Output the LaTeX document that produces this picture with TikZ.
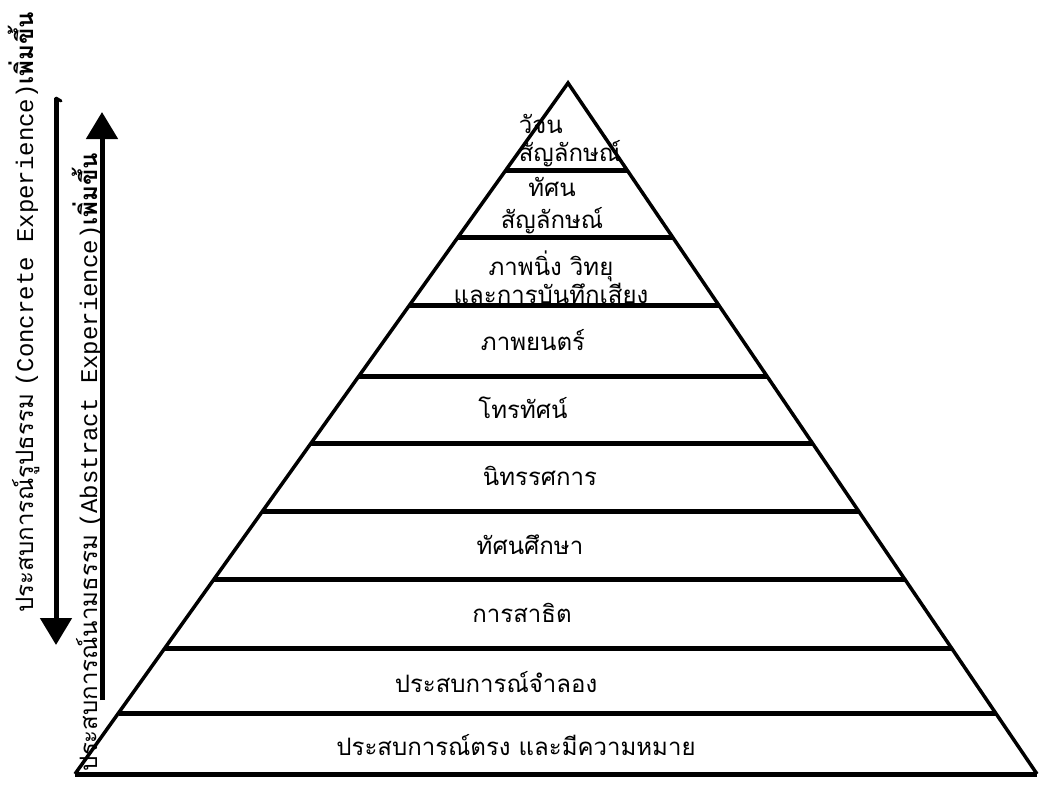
\documentclass[tikz,border=0pt]{standalone}
\usepackage{fontspec}
\newfontfamily\thai[Script=Thai]{Loma}
\newfontfamily\cour{Liberation Mono}
\usetikzlibrary{arrows.meta}
\begin{document}
\begin{tikzpicture}[x=1pt,y=-1pt,
  lbl/.style={font=\thai\fontsize{24}{28}\selectfont, align=center, inner sep=0pt},
  side/.style={font=\fontsize{24}{28}\selectfont, rotate=90, anchor=base, inner sep=0pt},
  edge/.style={line width=3.5pt, line join=miter},
  band/.style={line width=5pt},
  bigarrow/.style={line width=5pt, -{Triangle[width=31pt,length=27pt]}}]
\useasboundingbox (0,0) rectangle (1042,785);
\coordinate (apex) at (568,83);
\coordinate (bl) at (75,774);
\coordinate (br) at (1037,774);
\draw[edge] (bl) -- (apex) -- (br);
\draw[band] (bl) -- (br);
\foreach \yy in {170,237,305,376,443,511,579,648,713} {
  \draw[band] ({568-0.71346*(\yy-83)},\yy) -- ({568+0.67873*(\yy-83)},\yy);
}
\node[lbl, align=left] (l1) at (570,141) {วัจน\\สัญลักษณ์};
\node[lbl] (l2) at (552,206) {ทัศน\\[4pt]สัญลักษณ์};
\node[lbl] (l3) at (551,277) {ภาพนิ่ง วิทยุ\\และการบันทึกเสียง};
\node[lbl] (l4) at (533,340) {ภาพยนตร์};
\node[lbl] (l5) at (523,408) {โทรทัศน์};
\node[lbl] (l6) at (540,476) {นิทรรศการ};
\node[lbl] (l7) at (530,545) {ทัศนศึกษา};
\node[lbl] (l8) at (522,613) {การสาธิต};
\node[lbl] (l9) at (496,682) {ประสบการณ์จำลอง};
\node[lbl] (l10) at (516,745) {ประสบการณ์ตรง และมีความหมาย};
\coordinate (dtop) at (56,98);
\coordinate (dbot) at (56,645);
\coordinate (dhook) at (61,101);
\draw[bigarrow] (dtop) -- (dbot);
\draw[line width=3pt, line cap=round] (dtop) -- (dhook);
\coordinate (ubot) at (102,700);
\coordinate (utop) at (102,112);
\draw[bigarrow] (ubot) -- (utop);
\node[side] (conc) at (33,312) {{\thai ประสบการณ์รูปธรรม} {\cour (Concrete Experience)}{\thai\bfseries เพิ่มขึ้น}};
\node[side] (abst) at (97,462) {{\thai ประสบการณ์นามธรรม} {\cour (Abstract Experience)}{\thai\bfseries เพิ่มขึ้น}};
\end{tikzpicture}
\end{document}
